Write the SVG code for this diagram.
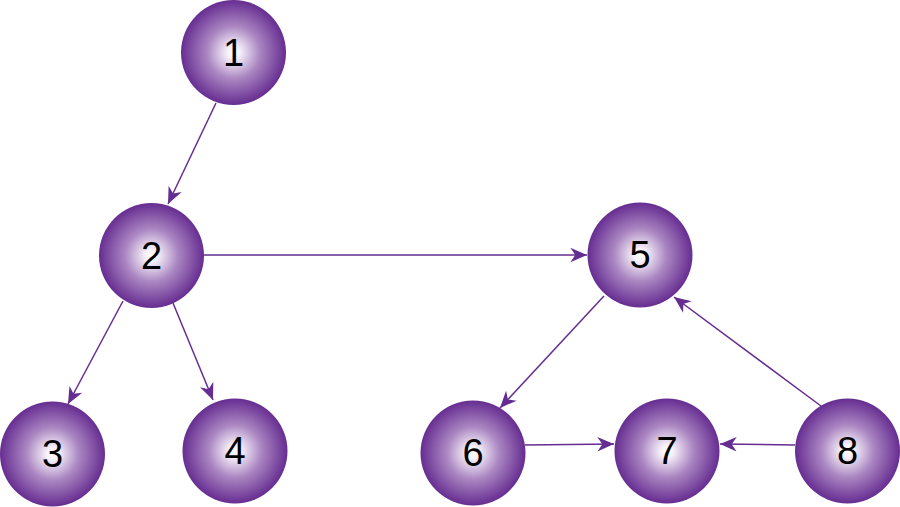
<svg xmlns="http://www.w3.org/2000/svg" width="900" height="507" viewBox="0 0 900 507">
<style>
.node circle{fill:url(#g)}
.node text{font-family:"Liberation Sans",Arial,sans-serif;font-size:38px;fill:#000;text-anchor:middle}
.edges line{stroke:#662d91;stroke-width:1.5;marker-end:url(#arr)}
</style>
<defs>
<radialGradient id="g" cx="0.5" cy="0.5" r="0.5">
<stop offset="0" stop-color="#ffffff"/>
<stop offset="0.12" stop-color="#f6f1f9"/>
<stop offset="0.5" stop-color="#ab87c2"/>
<stop offset="1" stop-color="#662d91"/>
</radialGradient>
<marker id="arr" markerUnits="userSpaceOnUse" markerWidth="20" markerHeight="20" viewBox="-16 -8 18 16" refX="0" refY="0" orient="auto">
<path d="M0,0 L-15,-6.5 L-10.5,0 L-15,6.5 Z" fill="#662d91"/>
</marker>
</defs>
<rect width="900" height="507" fill="#fff"/>
<g class="edges">
<line x1="216" y1="103" x2="168" y2="204"/>
<line x1="204" y1="255" x2="587" y2="255"/>
<line x1="123" y1="301" x2="68" y2="404"/>
<line x1="173" y1="303" x2="213" y2="400"/>
<line x1="604" y1="296" x2="500" y2="408"/>
<line x1="525" y1="445" x2="614" y2="444"/>
<line x1="795" y1="445" x2="720" y2="444"/>
<line x1="821" y1="406" x2="674" y2="297"/>
</g>
<g id="n1" class="node"><circle cx="233.5" cy="52.5" r="52.5"/><text x="233.5" y="65.5">1</text></g>
<g id="n2" class="node"><circle cx="151.5" cy="255.5" r="52.5"/><text x="151.5" y="268.5">2</text></g>
<g id="n3" class="node"><circle cx="52.5" cy="454" r="52.5"/><text x="52.5" y="467">3</text></g>
<g id="n4" class="node"><circle cx="235" cy="451" r="52.5"/><text x="235" y="464">4</text></g>
<g id="n5" class="node"><circle cx="640" cy="255" r="52.5"/><text x="640" y="268">5</text></g>
<g id="n6" class="node"><circle cx="473" cy="453" r="52.5"/><text x="473" y="466">6</text></g>
<g id="n7" class="node"><circle cx="667" cy="451" r="52.5"/><text x="667" y="464">7</text></g>
<g id="n8" class="node"><circle cx="847.5" cy="451" r="52.5"/><text x="847.5" y="464">8</text></g>
</svg>
